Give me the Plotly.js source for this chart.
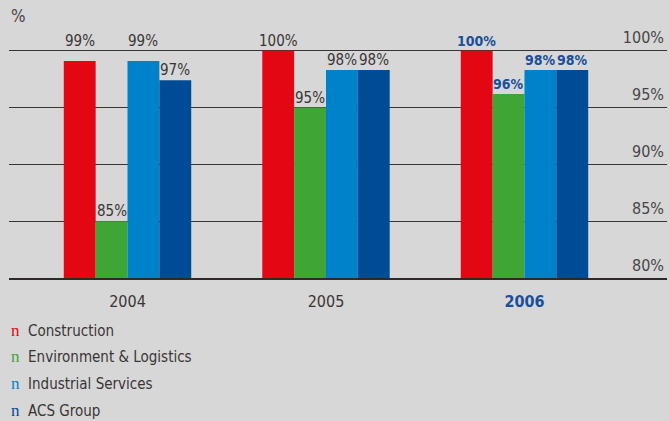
<!DOCTYPE html>
<html><head><meta charset="utf-8">
<script src="https://cdn.plot.ly/plotly-3.0.1.min.js"></script>
<style>html,body{margin:0;padding:0;background:#d7d7d7;}#chart{width:670px;height:421px;}</style>
</head><body><div id="chart"></div>
<script>
const years = ['2004', '2005', '2006'];
const seriesNames = ['Construction', 'Environment & Logistics', 'Industrial Services', 'ACS Group'];
// bar heights
const construction = [99.1, 100, 100];
const environment = [85, 95, 96.2];
const industrial = [99.1, 98.3, 98.3];
const acsGroup = [97.4, 98.3, 98.3];
// printed labels
const constructionLabels = ['99%', '100%', '100%'];
const environmentLabels = ['85%', '95%', '96%'];
const industrialLabels = ['99%', '98%', '98%'];
const acsGroupLabels = ['97%', '98%', '98%'];
const yTicks = [80, 85, 90, 95, 100];
const yTickLabels = ['80%', '85%', '90%', '95%', '100%'];

const colors = ['#e30613', '#3fa535', '#0082ca', '#004b96'];
const allValues = [construction, environment, industrial, acsGroup];
const allLabels = [constructionLabels, environmentLabels, industrialLabels, acsGroupLabels];
const FONT = '"DejaVu Sans Condensed", "Liberation Sans Narrow", "Liberation Sans", sans-serif';
const BARGAP = 0.358;
const YMAX = 102;

const xIdx = years.map((_, i) => i);
const traces = allValues.map((vals, s) => ({
  type: 'bar',
  name: seriesNames[s],
  x: xIdx,
  y: vals,
  marker: {color: colors[s], line: {width: 0}},
  hoverinfo: 'skip'
}));

// value labels placed through the axes
const barW = (1 - BARGAP) / allValues.length;
const labelAnns = [];
allValues.forEach((vals, s) => {
  vals.forEach((v, i) => {
    const lift = (v > 98.8 && v < 100) ? 100 : v; // keep clear of the 100% line
    const highlight = i === years.length - 1;
    labelAnns.push({
      xref: 'x', yref: 'y', x: i + (s - (allValues.length - 1) / 2) * barW, y: lift,
      xanchor: 'center', yanchor: 'middle', yshift: 10, showarrow: false,
      text: highlight ? '<b>' + allLabels[s][i] + '</b>' : allLabels[s][i],
      font: {family: FONT, size: highlight ? 14 : 15, color: highlight ? '#1b4f9a' : '#3a3535'}
    });
  });
});

const legendAnns = seriesNames.map((n, i) => ({
  xref: 'paper', yref: 'paper', x: 0, y: 0, xanchor: 'left', yanchor: 'middle',
  yshift: -(330 + i * 26.7 - 278), showarrow: false, align: 'left',
  text: '<span style="color:' + colors[i] + ';font-family:\'Liberation Serif\',serif;font-size:17px">n</span>  ' + n,
  font: {family: FONT, size: 15, color: '#3a3535'}
}));

const layout = {
  width: 670, height: 421,
  paper_bgcolor: '#d7d7d7', plot_bgcolor: '#d7d7d7',
  margin: {l: 9, r: 3, t: 28, b: 143},
  showlegend: false,
  bargap: BARGAP, bargroupgap: 0,
  barmode: 'group',
  font: {family: FONT, color: '#3a3535', size: 15},
  xaxis: {
    range: [-0.597, 2.718],
    tickvals: xIdx,
    ticktext: years.map((y, i) => i === years.length - 1 ? '<b><span style="color:#1b4f9a">' + y + '</span></b>' : y),
    showgrid: false, zeroline: false,
    showline: true, linecolor: '#2e2a2a', linewidth: 2,
    ticks: '', ticklabelstandoff: 8,
    tickfont: {family: FONT, size: 16, color: '#3a3535'}
  },
  yaxis: {
    range: [80, YMAX],
    tickvals: yTicks, ticktext: yTickLabels,
    side: 'right', ticklabelposition: 'inside',
    ticklabelshift: -13, ticklabelstandoff: 0,
    showgrid: true, gridcolor: '#3a3535', gridwidth: 1,
    zeroline: false, showline: false, ticks: '',
    tickfont: {family: FONT, size: 16, color: '#4a4545'}
  },
  annotations: [
    {xref: 'paper', yref: 'paper', x: 0, y: 1, xanchor: 'left', yanchor: 'middle', yshift: 12,
     showarrow: false, text: '%', font: {family: FONT, size: 17, color: '#4a4545'}}
  ].concat(labelAnns, legendAnns)
};

Plotly.newPlot('chart', traces, layout, {displayModeBar: false, staticPlot: true});
</script></body></html>
